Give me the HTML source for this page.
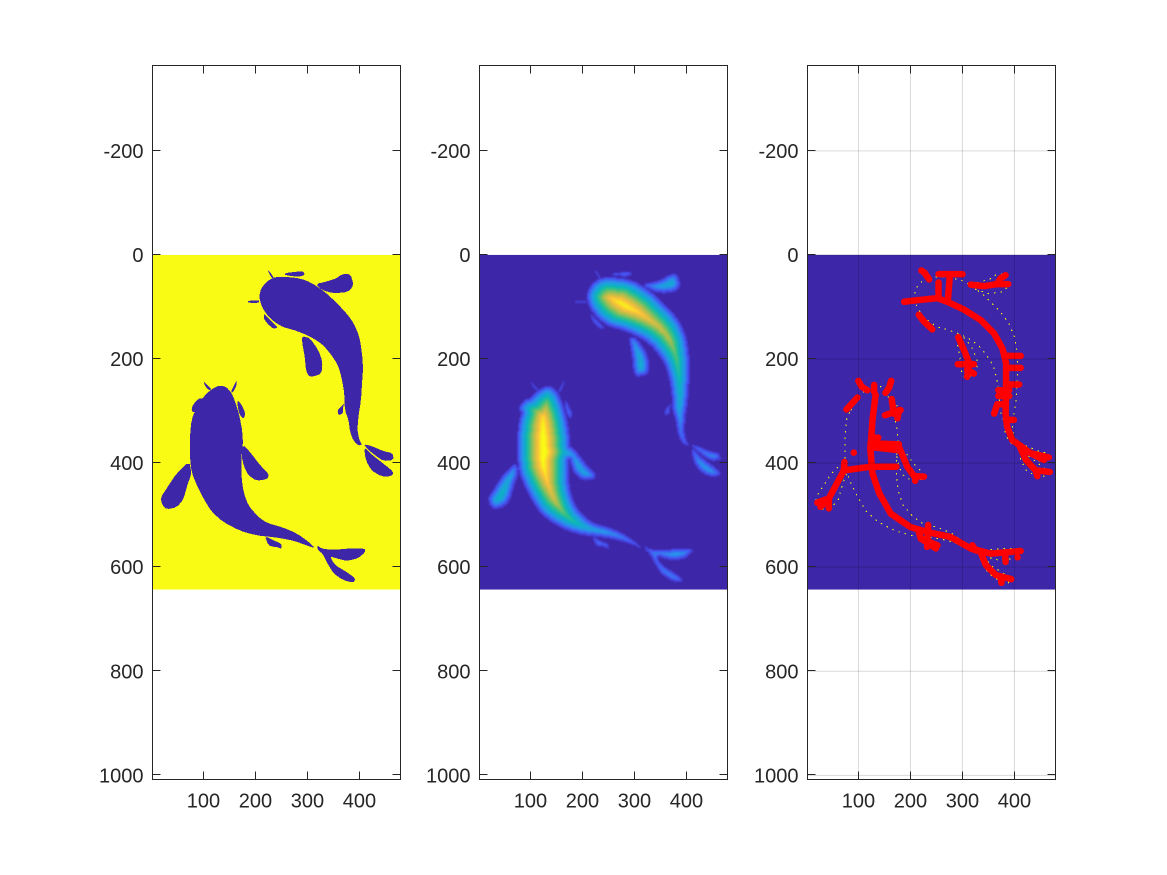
<!DOCTYPE html>
<html lang="en">
<head>
<meta charset="utf-8">
<title>Fish image panels</title>
<style>
html,body{margin:0;padding:0;background:#fff;}
svg{display:block;font-family:"Liberation Sans",Arial,sans-serif;}
</style>
</head>
<body>
<svg id="fig" xmlns="http://www.w3.org/2000/svg" width="1167" height="875" viewBox="0 0 1167 875">
<defs><filter id="soft" x="-5%" y="-5%" width="110%" height="110%"><feGaussianBlur stdDeviation="0.5"/></filter></defs>
</svg>
<script>
/* axis tick data */
const xTicks = [100, 200, 300, 400];
const yTicks = [-200, 0, 200, 400, 600, 800, 1000];
const xLimits = [2, 479];
const yLimits = [-364, 1008];
const imageExtentX = [2, 479];
const imageExtentY = [0, 643];
const panelNames = ['mask', 'distance', 'skeleton'];

/* fish silhouette outlines, in image coordinates (x,y pairs) */
const upperBody = [236,43,254,42,279,44,298,49,318,60,337,74,356,92,375,112,389,131,400,157,405,189,407,218,405,247,403,279,398,311,396,337,400,356,405,365,398,366,388,356,382,340,379,317,372,298,371,266,366,237,359,212,346,192,330,173,311,160,292,151,273,144,254,139,238,130,222,115,212,99,207,80,211,64,222,51];
const upperWhiskerTop = [223,29,229,34,236,45,232,45,227,37];
const upperWhiskerLeft = [186,88,207,87,207,92,186,92];
const upperDorsalFin = [257,35,273,33,292,31,295,39,282,42,257,39];
const upperRightFin = [316,56,337,51,356,45,366,37,383,37,389,58,379,71,350,74,327,67];
const upperHeadFin = [216,112,225,122,234,130,243,140,234,142,222,131,216,122];
const upperBigFin = [290,156,305,160,321,183,329,205,327,228,314,233,303,234,297,221,295,196,290,170];
const upperSmallFin = [371,285,368,295,368,305,359,308,358,298,366,290];
const upperTailTop = [409,364,423,367,446,377,464,381,466,394,446,396,430,385,414,372];
const upperTailLow = [409,369,423,383,446,401,466,417,462,425,443,426,423,414,412,394];
const lowerBody = [129,251,143,253,154,265,161,282,169,308,175,340,176,365,173,388,173,426,177,455,186,481,205,503,222,515,254,524,279,535,298,548,316,564,298,558,273,549,241,543,202,539,170,530,138,513,116,494,100,468,87,442,77,417,74,388,74,349,77,317,87,292,103,269,116,258];
const lowerWhiskerLeft = [100,242,106,249,116,258,111,260,103,252];
const lowerWhiskerRight = [164,240,163,253,156,265,153,263,159,250];
const lowerLeftSmallFin = [100,276,90,276,79,289,77,300,84,303,90,289];
const lowerRightSmallFin = [165,279,173,287,181,305,177,315,170,308,166,292];
const lowerRightFin = [176,364,189,378,209,404,226,421,223,431,202,434,186,423,178,407,173,385];
const lowerLeftFin = [73,396,77,421,70,439,61,471,48,485,29,489,20,479,18,466,29,449,48,420];
const lowerUnderFin = [218,540,234,548,250,555,250,565,241,561,234,561,225,558];
const lowerTail = [319,558,327,564,347,567,382,564,411,564,411,571,398,583,375,588,356,583,343,579,353,596,375,609,393,622,388,630,369,625,350,612,337,590,329,574,320,567];
const fishOutlines = [upperBody, upperWhiskerTop, upperWhiskerLeft, upperDorsalFin, upperRightFin, upperHeadFin, upperBigFin, upperSmallFin, upperTailTop, upperTailLow, lowerBody, lowerWhiskerLeft, lowerWhiskerRight, lowerLeftSmallFin, lowerRightSmallFin, lowerRightFin, lowerLeftFin, lowerUnderFin, lowerTail];

/* skeleton branches, in image coordinates (x,y pairs) */
const upperSkeleton = [
 [188,90,213,87,252,83,271,90,303,105,335,125,361,151,377,180,384,208,384,260,383,305,386,330,396,356,409,365],
 [254,83,254,53],[272,87,276,37],[254,37,300,37],[221,30,227,34,236,47],
 [316,57,341,60,367,56,388,56],[367,56,373,45,383,39],[216,115,226,128,242,143],
 [292,158,303,183,313,208,309,234],[291,210,322,210],[309,221,322,228],
 [384,194,412,194],[384,217,412,217],[384,249,409,249],[369,260,390,260],[369,271,390,271],
 [384,287,367,287,361,305],[384,317,399,317],
 [409,365,431,381,466,389],[409,365,422,394,441,414,468,417],[431,381,457,394],[441,414,444,425]
];
const lowerSkeleton = [
 [133,269,127,317,123,375,127,420,140,458,162,497,200,523,239,534,277,542,316,564,354,574,412,569],
 [130,250,130,263],[100,242,106,253,117,260],[163,242,159,255,152,265],[98,274,88,285,77,297],
 [164,277,168,305],[151,308,181,298],[175,314,178,298],[123,362,178,364],[123,369,175,375],
 [178,369,194,407,207,425,226,426],[210,426,209,434],[127,351,138,351],[91,380,91,380],
 [173,407,123,407,72,414,43,468,21,476],[43,468,43,487],[43,468,27,484],[72,414,73,398],
 [216,532,220,545,249,564],[234,519,232,561],[220,545,252,558],
 [316,564,335,571,345,596,364,615,394,623],[374,622,375,630],[382,574,383,590],[406,581,406,581],[319,558,325,567]
];

/* parula colormap stops: position, r, g, b */
const colorStops = [[0,62,38,168],[0.14,72,82,244],[0.3,39,150,235],[0.45,10,180,190],[0.57,56,193,130],[0.7,165,190,80],[0.85,250,190,60],[1,249,251,21]];
const cellSize = 2;

const NS = 'http://www.w3.org/2000/svg';
const fig = document.getElementById('fig');
const ink = '#262626';
const blue = '#3e26a8';
const yellow = '#f9fb15';

function mk(parent, tag, attrs) {
  const el = document.createElementNS(NS, tag);
  for (const k in attrs) el.setAttribute(k, attrs[k]);
  parent.appendChild(el);
  return el;
}
function parula(t) {
  t = Math.max(0, Math.min(1, t));
  for (let i = 1; i < colorStops.length; i++) {
    if (t <= colorStops[i][0]) {
      const a = colorStops[i - 1], b = colorStops[i];
      const f = (t - a[0]) / (b[0] - a[0]);
      return 'rgb(' + [1, 2, 3].map(c => Math.round(a[c] + (b[c] - a[c]) * f)).join(',') + ')';
    }
  }
  return 'rgb(249,251,21)';
}
/* corner rounding of a closed outline */
function rounded(poly) {
  const out = [], n = poly.length / 2, q = 0.22;
  for (let k = 0; k < n; k++) {
    const x0 = poly[2 * k], y0 = poly[2 * k + 1];
    const x1 = poly[2 * ((k + 1) % n)], y1 = poly[2 * ((k + 1) % n) + 1];
    out.push(x0 + (x1 - x0) * q, y0 + (y1 - y0) * q, x1 - (x1 - x0) * q, y1 - (y1 - y0) * q);
  }
  return out;
}
function pathFrom(pts, sx, sy, close) {
  let d = '';
  for (let i = 0; i < pts.length; i += 2) {
    d += (i ? 'L' : 'M') + sx(pts[i]).toFixed(2) + ' ' + sy(pts[i + 1]).toFixed(2);
  }
  return d + (close ? 'Z' : '');
}
const smoothOutlines = fishOutlines.map(rounded);

/* distance transform of the fish mask, computed from the outlines */
const nx = Math.floor((imageExtentX[1]) / cellSize);
const ny = Math.floor((imageExtentY[1]) / cellSize);
const mask = new Uint8Array(nx * ny);
smoothOutlines.forEach(poly => {
  for (let j = 0; j < ny; j++) {
    const y = (j + 0.5) * cellSize;
    const xs = [];
    const n = poly.length / 2;
    for (let k = 0; k < n; k++) {
      const x0 = poly[2 * k], y0 = poly[2 * k + 1];
      const x1 = poly[2 * ((k + 1) % n)], y1 = poly[2 * ((k + 1) % n) + 1];
      if ((y0 <= y) !== (y1 <= y)) xs.push(x0 + (y - y0) / (y1 - y0) * (x1 - x0));
    }
    xs.sort((a, b) => a - b);
    for (let k = 0; k + 1 < xs.length; k += 2) {
      const i0 = Math.max(0, Math.ceil(xs[k] / cellSize - 0.5));
      const i1 = Math.min(nx - 1, Math.floor(xs[k + 1] / cellSize - 0.5));
      for (let i = i0; i <= i1; i++) mask[j * nx + i] = 1;
    }
  }
});
const dist = new Float32Array(nx * ny);
for (let i = 0; i < nx * ny; i++) dist[i] = mask[i] ? 1e6 : 0;
const straight = cellSize, diagonal = cellSize * 1.3;
for (let j = 0; j < ny; j++) for (let i = 0; i < nx; i++) {
  const p = j * nx + i; if (!mask[p]) continue;
  let d = dist[p];
  if (i > 0) d = Math.min(d, dist[p - 1] + straight); else d = Math.min(d, straight);
  if (j > 0) {
    d = Math.min(d, dist[p - nx] + straight);
    if (i > 0) d = Math.min(d, dist[p - nx - 1] + diagonal);
    if (i < nx - 1) d = Math.min(d, dist[p - nx + 1] + diagonal);
  }
  dist[p] = d;
}
let maxDist = 1;
for (let j = ny - 1; j >= 0; j--) for (let i = nx - 1; i >= 0; i--) {
  const p = j * nx + i; if (!mask[p]) continue;
  let d = dist[p];
  if (i < nx - 1) d = Math.min(d, dist[p + 1] + straight);
  if (j < ny - 1) {
    d = Math.min(d, dist[p + nx] + straight);
    if (i < nx - 1) d = Math.min(d, dist[p + nx + 1] + diagonal);
    if (i > 0) d = Math.min(d, dist[p + nx - 1] + diagonal);
  }
  dist[p] = d;
  if (d > maxDist) maxDist = d;
}

const plotW = 248, plotH = 714, plotTop = 65.5;
[152.5, 479.5, 807.5].forEach((left, idx) => {
  const sx = v => left + (v - xLimits[0]) / (xLimits[1] - xLimits[0]) * plotW;
  const sy = v => plotTop + (v - yLimits[0]) / (yLimits[1] - yLimits[0]) * plotH;
  const panel = mk(fig, 'g', {});
  
  

  const imgX = sx(imageExtentX[0]), imgY = sy(imageExtentY[0]);
  const imgW = sx(imageExtentX[1]) - imgX, imgH = sy(imageExtentY[1]) - imgY;
  const bg = mk(panel, 'rect', { x: imgX, y: imgY, width: imgW, height: imgH, fill: idx === 0 ? yellow : blue });
  
  

  if (idx === 0) {
    const g = mk(panel, 'g', { fill: blue, 'shape-rendering': 'crispEdges' });
    
    
    smoothOutlines.forEach(poly => {
      const p = mk(g, 'path', { d: pathFrom(poly, sx, sy, true) });
      
      
    });
  }
  if (idx === 1) {
    const g = mk(panel, 'g', { filter: 'url(#soft)' });
    
    
    const cw = sx(cellSize) - sx(0) + 0.4, ch = sy(cellSize) - sy(0) + 0.4;
    for (let j = 0; j < ny; j++) for (let i = 0; i < nx; i++) {
      const p = j * nx + i; if (!mask[p]) continue;
      const cell = mk(g, 'rect', {
        x: sx(i * cellSize).toFixed(2), y: sy(j * cellSize).toFixed(2),
        width: cw.toFixed(2), height: ch.toFixed(2), fill: parula(1.05 * Math.pow(dist[p] / maxDist, 0.8))
      });
      
      
    }
  }
  if (idx === 2) {
    const g = mk(panel, 'g', { fill: 'none', stroke: '#ffff00', 'stroke-width': 1, 'stroke-dasharray': '1.5 5', 'shape-rendering': 'crispEdges' });
    
    
    fishOutlines.forEach(poly => {
      const p = mk(g, 'path', { d: pathFrom(poly, sx, sy, true) });
      
      
    });
    const r = mk(panel, 'g', { fill: 'none', stroke: '#ff0000', 'stroke-width': 6.5, 'stroke-linecap': 'round', 'stroke-linejoin': 'round' });
    
    
    upperSkeleton.concat(lowerSkeleton).forEach(branch => {
      const p = mk(r, 'path', { d: pathFrom(branch, sx, sy, false) });
      
      
    });
    const grid = mk(panel, 'g', { stroke: '#000', 'stroke-opacity': 0.15, 'stroke-width': 1 });
    
    
    xTicks.forEach(v => {
      const l = mk(grid, 'line', { x1: sx(v), x2: sx(v), y1: plotTop, y2: plotTop + plotH });
      
      
    });
    yTicks.forEach(v => {
      const l = mk(grid, 'line', { x1: left, x2: left + plotW, y1: sy(v), y2: sy(v) });
      
      
    });
  }

  const frame = mk(panel, 'rect', { x: left, y: plotTop, width: plotW, height: plotH, fill: 'none', stroke: ink, 'stroke-width': 1 });
  
  

  xTicks.forEach(v => {
    const x = Math.round(sx(v)) + 0.5;
    [[plotTop, plotTop + 8], [plotTop + plotH, plotTop + plotH - 8]].forEach(e => {
      const t = mk(panel, 'line', { x1: x, x2: x, y1: e[0], y2: e[1], stroke: ink, 'stroke-width': 1 });
      
      
    });
    const lab = mk(panel, 'text', { x: sx(v), y: 807.5, 'text-anchor': 'middle', 'font-size': 20, fill: ink });
    lab.textContent = String(v);
    
    
  });
  yTicks.forEach(v => {
    const y = Math.round(sy(v)) - 0.5;
    [[left, left + 8], [left + plotW, left + plotW - 8]].forEach(e => {
      const t = mk(panel, 'line', { x1: e[0], x2: e[1], y1: y, y2: y, stroke: ink, 'stroke-width': 1 });
      
      
    });
    const lab = mk(panel, 'text', { x: left - 9, y: sy(v) + 7, 'text-anchor': 'end', 'font-size': 20, fill: ink });
    lab.textContent = String(v);
    
    
  });
});
</script>
</body>
</html>
